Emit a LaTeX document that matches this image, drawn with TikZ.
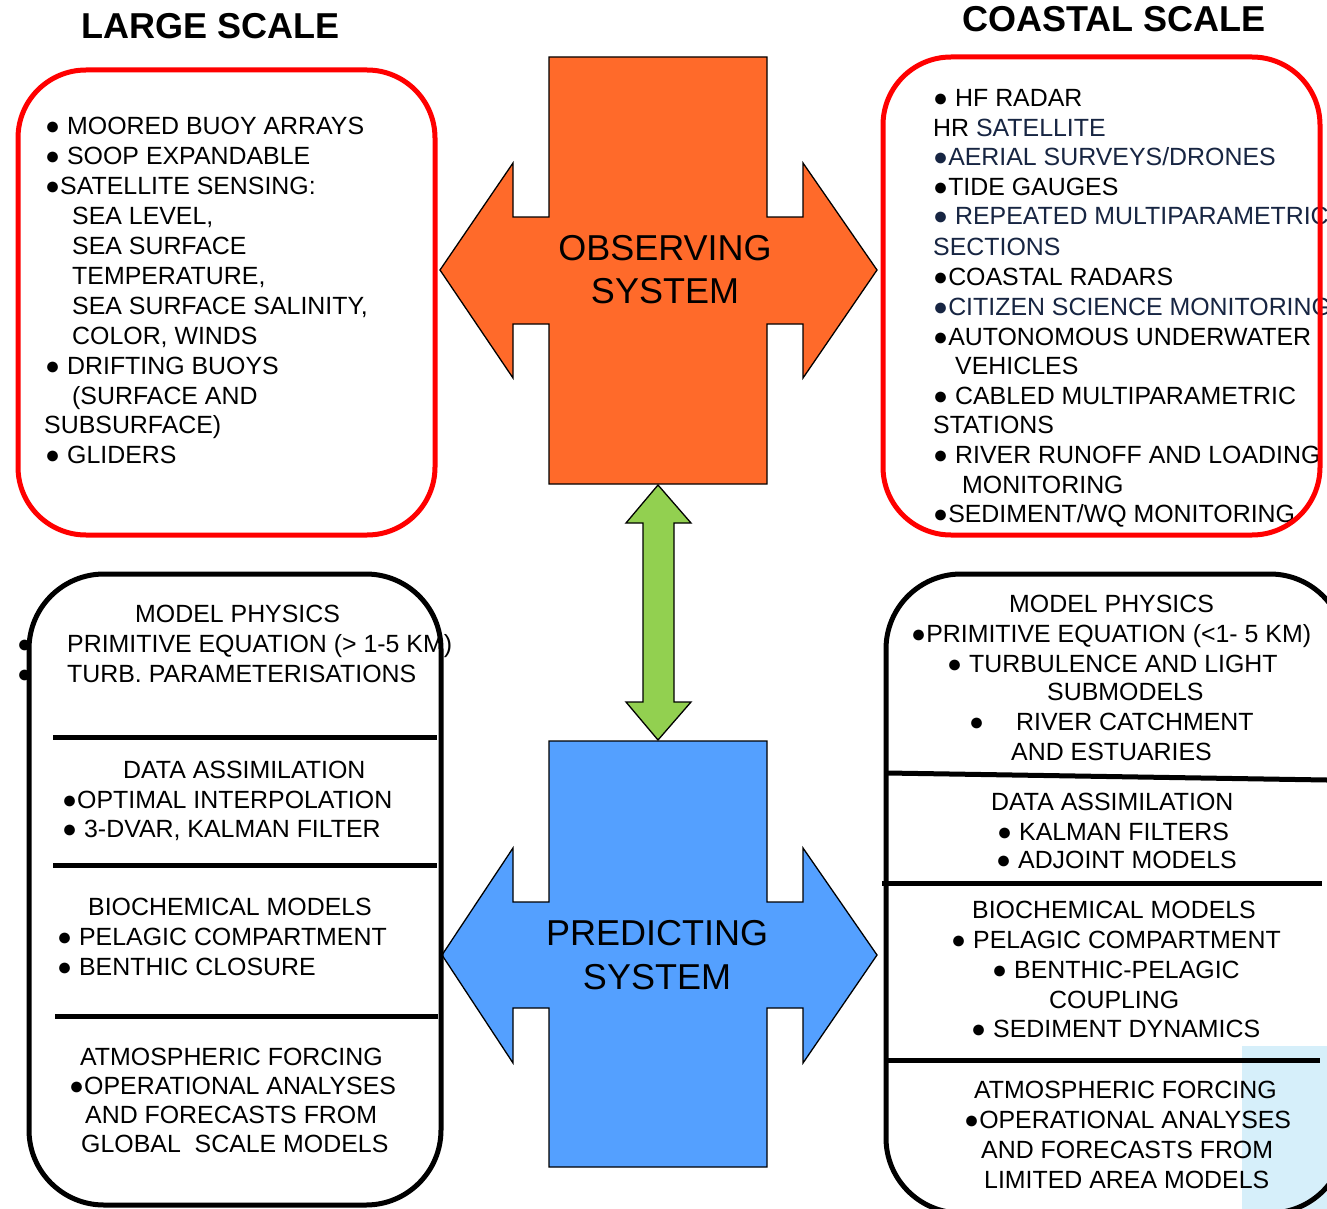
\documentclass[tikz,border=0pt]{standalone}
\usepackage{fontspec}
\setmainfont{Liberation Sans}
\definecolor{obsorange}{RGB}{255,106,42}
\definecolor{predblue}{RGB}{84,160,255}
\definecolor{linkgreen}{RGB}{146,208,80}
\definecolor{navy}{RGB}{23,37,66}
\definecolor{paleblue}{RGB}{214,239,250}
\begin{document}
\begin{tikzpicture}[x=1pt,y=-1pt,
  txt/.style={font=\fontsize{24.9}{29}\selectfont, inner sep=0pt, anchor=base west},
  title/.style={font=\fontsize{36}{40}\selectfont\bfseries, inner sep=0pt, anchor=base west},
  systxt/.style={font=\fontsize{36}{40}\selectfont, inner sep=0pt, anchor=base},
  redbox/.style={draw=red, line width=5pt, rounded corners=68pt},
  blkbox/.style={draw=black, line width=5pt, rounded corners=75pt},
  divider/.style={draw=black, line width=5pt},
  crossshape/.style={draw=black, line width=1.3pt, line join=miter},
  greenarrow/.style={draw=black, fill=linkgreen, line width=1.3pt, line join=miter}]
\clip (0,0) rectangle (1327,1209);
\fill[white] (0,0) rectangle (1327,1209);

% titles
\node[title] (tl) at (81,39) {LARGE SCALE};
\node[title] (tr) at (962,32) {COASTAL SCALE};

% pale blue patch
\fill[paleblue] (1242,1046) rectangle (1330,1212);

% observing system cross
\path[crossshape, fill=obsorange] (549,57) -- (767,57) -- (767,217) -- (803,217) -- (803,163) -- (877,270)
  -- (803,378) -- (803,324) -- (767,324) -- (767,484) -- (549,484) -- (549,324) -- (513,324)
  -- (513,378) -- (440,270) -- (513,163) -- (513,217) -- (549,217) -- cycle;
\node[systxt] (obs1) at (665,260) {OBSERVING};
\node[systxt] (obs2) at (665,303) {SYSTEM};

% predicting system cross
\path[crossshape, fill=predblue] (549,741) -- (767,741) -- (767,902) -- (803,902) -- (803,848) -- (877,955)
  -- (803,1063) -- (803,1008) -- (767,1008) -- (767,1167) -- (549,1167) -- (549,1008) -- (513,1008)
  -- (513,1063) -- (442,955) -- (513,848) -- (513,902) -- (549,902) -- cycle;
\node[systxt] (pred1) at (657,945) {PREDICTING};
\node[systxt] (pred2) at (657,989) {SYSTEM};

% green double arrow
\coordinate (obsS) at (658,485);
\coordinate (predN) at (658,740);
\draw[greenarrow] (obsS) -- (691,523) -- (674,523) -- (674,702) -- (691,702) -- (predN)
  -- (626,702) -- (643,702) -- (643,523) -- (626,523) -- cycle;

% large scale observing list
\node[txt] (a1) at (45,135) {● MOORED BUOY ARRAYS};
\node[txt] (a2) at (45,165) {● SOOP EXPANDABLE};
\node[txt] (a3) at (45,195) {●SATELLITE SENSING:};
\node[txt] (a4) at (72,224) {SEA LEVEL,};
\node[txt] (a5) at (72,254) {SEA SURFACE};
\node[txt] (a6) at (72,284) {TEMPERATURE,};
\node[txt] (a7) at (72,314) {SEA SURFACE SALINITY,};
\node[txt] (a8) at (72,344) {COLOR, WINDS};
\node[txt] (a9) at (45,374) {● DRIFTING BUOYS};
\node[txt] (a10) at (72,404) {(SURFACE AND};
\node[txt] (a11) at (44,433) {SUBSURFACE)};
\node[txt] (a12) at (45,463) {● GLIDERS};

% coastal observing list
\node[txt] (b1) at (933,107) {● HF RADAR};
\node[txt] (b2) at (933,137) {HR \textcolor{navy}{SATELLITE}};
\node[txt, text=navy] (b3) at (933,166) {●AERIAL SURVEYS/DRONES};
\node[txt] (b4) at (933,196) {●TIDE GAUGES};
\node[txt, text=navy] (b5) at (933,225) {● REPEATED MULTIPARAMETRIC};
\node[txt, text=navy] (b6) at (933,255) {SECTIONS};
\node[txt] (b7) at (933,285) {●COASTAL RADARS};
\node[txt, text=navy] (b8) at (933,315) {●CITIZEN SCIENCE MONITORING};
\node[txt] (b9) at (933,345) {●AUTONOMOUS UNDERWATER};
\node[txt] (b10) at (955,374) {VEHICLES};
\node[txt] (b11) at (933,404) {● CABLED MULTIPARAMETRIC};
\node[txt] (b12) at (933,433) {STATIONS};
\node[txt] (b13) at (933,463) {● RIVER RUNOFF AND LOADING};
\node[txt] (b14) at (962,493) {MONITORING};
\node[txt] (b15) at (933,522) {●SEDIMENT/WQ MONITORING};

% red boxes
\draw[redbox] (18,70) rectangle (435,535);
\draw[redbox] (883,57) rectangle (1320,535);

% stray bullets at the left black box
\node[txt] (c0a) at (17,652) {●};
\node[txt] (c0b) at (17,682) {●};

% black boxes
\draw[blkbox] (29,574) rectangle (441,1205);
\draw[blkbox] (886,574) rectangle (1345,1213);

% dividers
\draw[divider] (53,737) -- (437,737);
\draw[divider] (53,865) -- (437,865);
\draw[divider] (55,1016) -- (438,1016);
\draw[divider] (887,773) -- (1327,780);
\draw[divider] (882,883) -- (1322,883);
\draw[divider] (888,1060) -- (1320,1060);

% large scale predicting
\node[txt] (c1) at (135,622) {MODEL PHYSICS};
\node[txt] (c2) at (67,652) {PRIMITIVE EQUATION (> 1-5 KM)};
\node[txt] (c3) at (67,682) {TURB. PARAMETERISATIONS};
\node[txt] (c4) at (123,778) {DATA ASSIMILATION};
\node[txt] (c5) at (62,808) {●OPTIMAL INTERPOLATION};
\node[txt] (c6) at (62,837) {● 3-DVAR, KALMAN FILTER};
\node[txt] (c7) at (88,915) {BIOCHEMICAL MODELS};
\node[txt] (c8) at (57,945) {● PELAGIC COMPARTMENT};
\node[txt] (c9) at (57,975) {● BENTHIC CLOSURE};
\node[txt] (c10) at (80,1065) {ATMOSPHERIC FORCING};
\node[txt] (c11) at (69,1094) {●OPERATIONAL ANALYSES};
\node[txt] (c12) at (85,1123) {AND FORECASTS FROM};
\node[txt] (c13) at (81,1152) {GLOBAL\ \ SCALE MODELS};

% coastal predicting
\node[txt] (d1) at (1009,612) {MODEL PHYSICS};
\node[txt] (d2) at (911,642) {●PRIMITIVE EQUATION (<1- 5 KM)};
\node[txt] (d3) at (947,672) {● TURBULENCE AND LIGHT};
\node[txt] (d4) at (1047,700) {SUBMODELS};
\node[txt] (d5a) at (969,730) {●};
\node[txt] (d5b) at (1016,730) {RIVER CATCHMENT};
\node[txt] (d6) at (1011,760) {AND ESTUARIES};
\node[txt] (d7) at (991,810) {DATA ASSIMILATION};
\node[txt] (d8) at (997,840) {● KALMAN FILTERS};
\node[txt] (d9) at (996,868) {● ADJOINT MODELS};
\node[txt] (d10) at (972,918) {BIOCHEMICAL MODELS};
\node[txt] (d11) at (951,948) {● PELAGIC COMPARTMENT};
\node[txt] (d12) at (992,978) {● BENTHIC-PELAGIC};
\node[txt] (d13) at (1049,1008) {COUPLING};
\node[txt] (d14) at (971,1037) {● SEDIMENT DYNAMICS};
\node[txt] (d15) at (974,1098) {ATMOSPHERIC FORCING};
\node[txt] (d16) at (964,1128) {●OPERATIONAL ANALYSES};
\node[txt] (d17) at (981,1158) {AND FORECASTS FROM};
\node[txt] (d18) at (984,1188) {LIMITED AREA MODELS};
\end{tikzpicture}
\end{document}
